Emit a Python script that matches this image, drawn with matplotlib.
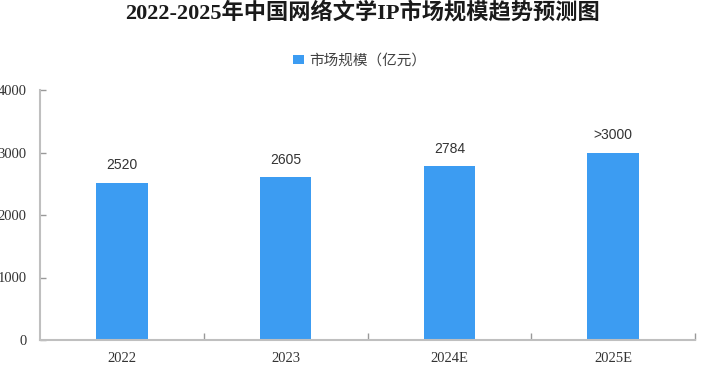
import numpy as np
import matplotlib
matplotlib.use("Agg")
import matplotlib.pyplot as plt
from matplotlib.ticker import FixedLocator

plt.rcParams['font.family'] = ['Noto Sans CJK SC', 'DejaVu Sans']

years = ["2022", "2023", "2024E", "2025E"]
market_size = [2520, 2605, 2784, 3000]
value_labels = ["2520", "2605", "2784", ">3000"]
y_ticks = [0, 1000, 2000, 3000, 4000]

BAR_COLOR = "#3c9cf2"
AXIS_COLOR = "#bfbfbf"
W, H = 711, 374

fig = plt.figure(figsize=(W / 100, H / 100), dpi=100)
ax = fig.add_axes([40 / W, (H - 340) / H, (695 - 40) / W, (340 - 90) / H])

x = np.arange(len(years))
bars = ax.bar(x, market_size, width=0.315, color=BAR_COLOR, zorder=2,
              label="市场规模（亿元）")

for xi, v, lab in zip(x, market_size, value_labels):
    ax.annotate(lab, (xi, v), xytext=(0, 7.5), textcoords="offset points",
                ha="center", va="bottom", fontsize=10, color="#333333",
                family=["Liberation Sans", "DejaVu Sans"])

ax.set_xlim(-0.5, len(years) - 0.5)
ax.set_ylim(0, 4000)

# category labels centred under bars, ticks on the category boundaries
ax.set_xticks(x)
ax.set_xticklabels(years, fontsize=10.5, color="#333333",
                   family=["Liberation Serif", "DejaVu Serif"])
ax.tick_params(axis="x", which="major", length=0, pad=9)
ax.xaxis.set_minor_locator(FixedLocator(np.arange(0.5, len(years), 1.0)))
ax.tick_params(axis="x", which="minor", direction="in", length=5,
               width=1, color="#999999")

ax.set_yticks(y_ticks)
ax.set_yticklabels([str(t) for t in y_ticks], fontsize=10.5, color="#333333",
                   family=["Liberation Serif", "DejaVu Serif"])
ax.tick_params(axis="y", direction="in", length=4, width=1, color="#999999",
               pad=9.5)

for s in ["top", "right"]:
    ax.spines[s].set_visible(False)
for s in ["left", "bottom"]:
    ax.spines[s].set_color(AXIS_COLOR)
    ax.spines[s].set_linewidth(1.5)

fig.text(363 / W, 1 - 13 / H, "2022-2025年中国网络文学IP市场规模趋势预测图",
         ha="center", va="center", fontsize=16, fontweight="bold",
         color="#1a1a1a", family=["Liberation Serif", "Noto Sans CJK SC"])

leg = ax.legend(loc="center", bbox_to_anchor=(360 / W, 1 - 61 / H),
                bbox_transform=fig.transFigure, frameon=False,
                fontsize=10.5, handlelength=0.7, handleheight=0.6,
                handletextpad=0.4, borderpad=0)
for t in leg.get_texts():
    t.set_color("#404040")

fig.savefig("out.png", dpi=100)
